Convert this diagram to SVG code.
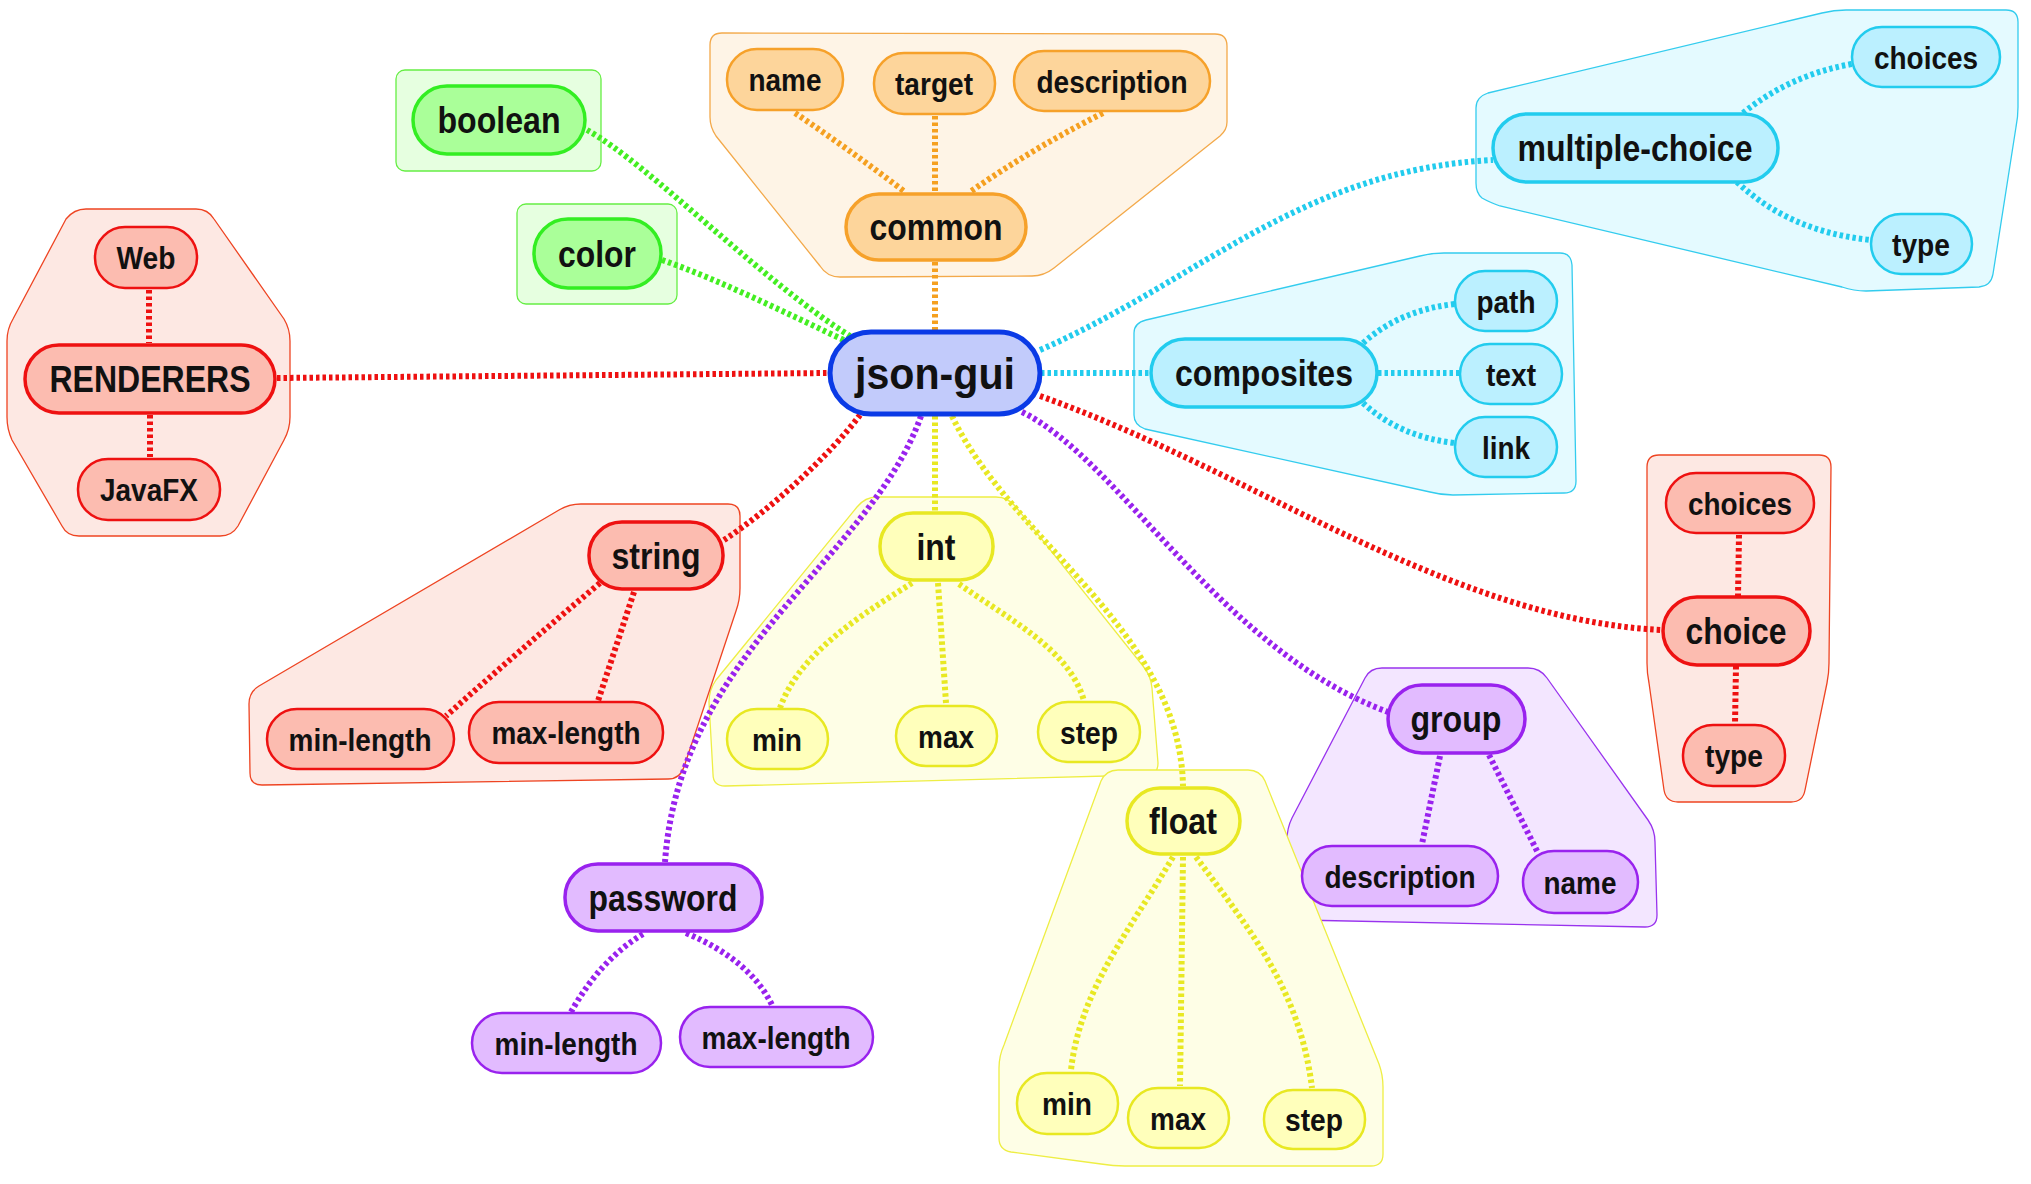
<svg xmlns="http://www.w3.org/2000/svg" width="2031" height="1184" viewBox="0 0 2031 1184">
<style>
text{font-family:"Liberation Sans",Arial,sans-serif;font-weight:bold;fill:#111;text-anchor:middle}
.t1{font-size:36px}.t2{font-size:32px}.t0{font-size:45px}
.c{fill:none;stroke-width:6;stroke-dasharray:3.5 3}
.cr{stroke:#ee1111}.co{stroke:#f5a020}.cg{stroke:#44ee22}.cc{stroke:#22ccee}.cy{stroke:#e8e822}.cp{stroke:#9922ee}
.gr{fill:#fde8e3;stroke:#ee4422;stroke-width:1.3}
.go{fill:#fef4e6;stroke:#f3a94a;stroke-width:1.3}
.gg{fill:#e6ffe0;stroke:#66ee44;stroke-width:1.3}
.gc{fill:#e4faff;stroke:#33ccee;stroke-width:1.3}
.gy{fill:#fefee6;stroke:#eeee44;stroke-width:1.3}
.gp{fill:#f3e6ff;stroke:#9933ee;stroke-width:1.3}
.nr{fill:#fcbcb0;stroke:#ee1111}
.no{fill:#fdd59b;stroke:#f6a12a}
.ng{fill:#aaff99;stroke:#33ee22}
.nc{fill:#bbf0ff;stroke:#22ccee}
.ny{fill:#ffffbb;stroke:#e8e822}
.np{fill:#e2bbff;stroke:#9922ee}
.nb{fill:#c2cbfb;stroke:#0a3ae6;stroke-width:5}
.l1{stroke-width:3.5}.l2{stroke-width:2.5}
</style>
<g id="groups">
<path class="go" d="M722,33 L1215,34 Q1227,34 1227,46 L1227,122 Q1227,130 1220,136 L1054,268 Q1044,276 1032,276 L840,277 Q827,277 820,266 L716,136 Q710,127 710,117 L710,45 Q710,33 722,33 Z"/>
<rect class="gg" x="396" y="70" width="205" height="101" rx="9"/>
<rect class="gg" x="517" y="204" width="160" height="100" rx="9"/>
<path class="gr" d="M86,209 L196,209 Q208,209 214,219 L284,319 Q290,329 290,341 L290,417 Q290,429 284,440 L238,526 Q232,536 220,536 L79,536 Q67,536 62,526 L12,440 Q7,429 7,417 L7,341 Q7,329 13,319 L66,219 Q74,209 86,209 Z"/>
<path class="gc" d="M1488,93 L1822,13 Q1834,10 1846,10 L2006,10 Q2018,10 2018,22 L2018,107 Q2018,117 2016,127 L1993,274 Q1991,286 1979,287 L1866,291 Q1854,291 1842,287 L1500,206 Q1489,202 1482,198 Q1476,193 1476,183 L1476,108 Q1476,97 1488,93 Z"/>
<path class="gc" d="M1146,320 L1420,256 Q1432,253 1444,253 L1560,253 Q1571,253 1572,265 L1576,481 Q1576,493 1564,493 L1453,495 Q1441,495 1430,492 L1145,429 Q1134,425 1134,415 L1134,333 Q1134,323 1146,320 Z"/>
<path class="gr" d="M1659,455 L1819,455 Q1831,455 1831,467 L1829,663 Q1829,673 1827,683 L1805,790 Q1803,802 1791,802 L1678,802 Q1666,802 1664,790 L1649,683 Q1647,673 1647,663 L1647,467 Q1647,455 1659,455 Z"/>
<path class="gp" d="M1382,668 L1528,668 Q1540,668 1547,678 L1648,820 Q1655,830 1655,842 L1657,915 Q1657,927 1645,927 L1299,920 Q1287,920 1287,908 L1287,840 Q1287,828 1292,818 L1365,678 Q1370,668 1382,668 Z"/>
<path class="gy" d="M877,497 L996,497 Q1008,497 1016,507 L1143,666 Q1151,676 1152,688 L1158,763 Q1158,775 1146,775 L725,786 Q713,786 713,774 L709,702 Q709,690 716,680 L857,507 Q865,497 877,497 Z"/>
<path class="gy" d="M1118,770 L1248,770 Q1260,770 1265,781 L1379,1064 Q1383,1075 1383,1087 L1383,1154 Q1383,1166 1371,1166 L1125,1166 Q1113,1166 1101,1164 L1011,1152 Q999,1150 999,1138 L999,1068 Q999,1056 1004,1045 L1101,781 Q1106,770 1118,770 Z"/>
<path class="gr" d="M581,504 L728,504 Q740,504 740,516 L740,588 Q740,600 736,611 L684,767 Q680,779 668,779 L262,785 Q250,785 250,773 L249,704 Q249,692 259,686 L559,510 Q569,504 581,504 Z"/>
</g>
<g id="connectors">
<path class="c co" d="M935,262 L935,330"/>
<path class="c co" d="M795,113 Q850,150 905,192"/>
<path class="c co" d="M935,116 L935,192"/>
<path class="c co" d="M1103,113 Q1030,150 970,192"/>
<path class="c cg" d="M587,130 C650,165 760,280 850,336"/>
<path class="c cg" d="M662,260 C720,280 790,315 848,342"/>
<path class="c cr" d="M277,378 L829,373"/>
<path class="c cr" d="M149,290 L149,343"/>
<path class="c cr" d="M150,415 L150,457"/>
<path class="c cr" d="M860,415 C830,455 770,510 724,540"/>
<path class="c cr" d="M600,583 Q520,650 446,716"/>
<path class="c cr" d="M634,592 L598,701"/>
<path class="c cy" d="M935,416 L935,511"/>
<path class="c cy" d="M912,583 C870,610 800,650 780,708"/>
<path class="c cy" d="M938,583 L946,703"/>
<path class="c cy" d="M959,584 C1010,620 1070,650 1084,701"/>
<path class="c cy" d="M952,416 C1010,540 1180,630 1183,786"/>
<path class="c cy" d="M1173,857 C1130,930 1080,990 1071,1070"/>
<path class="c cy" d="M1183,857 L1180,1086"/>
<path class="c cy" d="M1196,857 C1250,930 1300,990 1312,1088"/>
<path class="c cp" d="M921,416 C870,560 680,650 665,862"/>
<path class="c cp" d="M643,934 Q600,960 571,1012"/>
<path class="c cp" d="M686,933 Q750,960 772,1005"/>
<path class="c cp" d="M1022,412 C1120,460 1220,650 1388,712"/>
<path class="c cp" d="M1440,756 L1422,844"/>
<path class="c cp" d="M1489,755 L1538,853"/>
<path class="c cr" d="M1040,396 C1250,470 1450,620 1662,630"/>
<path class="c cr" d="M1739,535 L1738,596"/>
<path class="c cr" d="M1736,666 L1735,724"/>
<path class="c cc" d="M1041,373 L1150,373"/>
<path class="c cc" d="M1363,343 Q1400,310 1455,304"/>
<path class="c cc" d="M1378,373 L1459,373"/>
<path class="c cc" d="M1363,403 Q1400,437 1455,443"/>
<path class="c cc" d="M1040,350 C1200,280 1300,170 1493,160"/>
<path class="c cc" d="M1743,113 Q1790,75 1852,64"/>
<path class="c cc" d="M1737,182 Q1790,232 1871,240"/>
</g>
<g id="json-gui"><rect class="nb" x="830" y="332" width="210" height="82" rx="41"/><text class="t0" x="935" y="389" textLength="160" lengthAdjust="spacingAndGlyphs">json-gui</text></g>
<g id="common"><rect class="no l1" x="846" y="194" width="180" height="66" rx="33"/><text class="t1" x="936" y="240" textLength="133" lengthAdjust="spacingAndGlyphs">common</text></g>
<g id="name"><rect class="no l2" x="727" y="49" width="116" height="61" rx="30"/><text class="t2" x="785" y="91" textLength="73" lengthAdjust="spacingAndGlyphs">name</text></g>
<g id="target"><rect class="no l2" x="874" y="53" width="121" height="61" rx="30"/><text class="t2" x="934" y="95" textLength="78" lengthAdjust="spacingAndGlyphs">target</text></g>
<g id="description-common"><rect class="no l2" x="1014" y="51" width="196" height="60" rx="30"/><text class="t2" x="1112" y="93" textLength="151" lengthAdjust="spacingAndGlyphs">description</text></g>
<g id="boolean"><rect class="ng l1" x="413" y="86" width="172" height="68" rx="34"/><text class="t1" x="499" y="133" textLength="123" lengthAdjust="spacingAndGlyphs">boolean</text></g>
<g id="color"><rect class="ng l1" x="534" y="219" width="127" height="69" rx="34"/><text class="t1" x="597" y="267" textLength="78" lengthAdjust="spacingAndGlyphs">color</text></g>
<g id="renderers"><rect class="nr l1" x="25" y="345" width="250" height="68" rx="34"/><text class="t1" x="150" y="392" textLength="201" lengthAdjust="spacingAndGlyphs">RENDERERS</text></g>
<g id="web"><rect class="nr l2" x="95" y="227" width="102" height="61" rx="30"/><text class="t2" x="146" y="269" textLength="59" lengthAdjust="spacingAndGlyphs">Web</text></g>
<g id="javafx"><rect class="nr l2" x="78" y="459" width="142" height="61" rx="30"/><text class="t2" x="149" y="501" textLength="98" lengthAdjust="spacingAndGlyphs">JavaFX</text></g>
<g id="string"><rect class="nr l1" x="589" y="522" width="134" height="67" rx="33"/><text class="t1" x="656" y="569" textLength="89" lengthAdjust="spacingAndGlyphs">string</text></g>
<g id="string-min-length"><rect class="nr l2" x="267" y="709" width="187" height="60" rx="30"/><text class="t2" x="360" y="751" textLength="143" lengthAdjust="spacingAndGlyphs">min-length</text></g>
<g id="string-max-length"><rect class="nr l2" x="469" y="702" width="194" height="61" rx="30"/><text class="t2" x="566" y="744" textLength="149" lengthAdjust="spacingAndGlyphs">max-length</text></g>
<g id="int"><rect class="ny l1" x="880" y="513" width="113" height="67" rx="33"/><text class="t1" x="936" y="560" textLength="39" lengthAdjust="spacingAndGlyphs">int</text></g>
<g id="int-min"><rect class="ny l2" x="727" y="709" width="101" height="60" rx="30"/><text class="t2" x="777" y="751" textLength="50" lengthAdjust="spacingAndGlyphs">min</text></g>
<g id="int-max"><rect class="ny l2" x="896" y="706" width="101" height="60" rx="30"/><text class="t2" x="946" y="748" textLength="56" lengthAdjust="spacingAndGlyphs">max</text></g>
<g id="int-step"><rect class="ny l2" x="1038" y="702" width="102" height="60" rx="30"/><text class="t2" x="1089" y="744" textLength="58" lengthAdjust="spacingAndGlyphs">step</text></g>
<g id="float"><rect class="ny l1" x="1127" y="788" width="113" height="66" rx="33"/><text class="t1" x="1183" y="834" textLength="68" lengthAdjust="spacingAndGlyphs">float</text></g>
<g id="float-min"><rect class="ny l2" x="1017" y="1073" width="101" height="61" rx="30"/><text class="t2" x="1067" y="1115" textLength="50" lengthAdjust="spacingAndGlyphs">min</text></g>
<g id="float-max"><rect class="ny l2" x="1128" y="1088" width="101" height="60" rx="30"/><text class="t2" x="1178" y="1130" textLength="56" lengthAdjust="spacingAndGlyphs">max</text></g>
<g id="float-step"><rect class="ny l2" x="1264" y="1090" width="101" height="59" rx="29"/><text class="t2" x="1314" y="1131" textLength="58" lengthAdjust="spacingAndGlyphs">step</text></g>
<g id="password"><rect class="np l1" x="565" y="864" width="197" height="67" rx="33"/><text class="t1" x="663" y="911" textLength="149" lengthAdjust="spacingAndGlyphs">password</text></g>
<g id="password-min-length"><rect class="np l2" x="472" y="1013" width="189" height="60" rx="30"/><text class="t2" x="566" y="1055" textLength="143" lengthAdjust="spacingAndGlyphs">min-length</text></g>
<g id="password-max-length"><rect class="np l2" x="680" y="1007" width="193" height="60" rx="30"/><text class="t2" x="776" y="1049" textLength="149" lengthAdjust="spacingAndGlyphs">max-length</text></g>
<g id="group"><rect class="np l1" x="1388" y="685" width="137" height="68" rx="34"/><text class="t1" x="1456" y="732" textLength="91" lengthAdjust="spacingAndGlyphs">group</text></g>
<g id="group-description"><rect class="np l2" x="1302" y="846" width="196" height="60" rx="30"/><text class="t2" x="1400" y="888" textLength="151" lengthAdjust="spacingAndGlyphs">description</text></g>
<g id="group-name"><rect class="np l2" x="1523" y="851" width="115" height="62" rx="31"/><text class="t2" x="1580" y="894" textLength="73" lengthAdjust="spacingAndGlyphs">name</text></g>
<g id="choice"><rect class="nr l1" x="1663" y="597" width="147" height="68" rx="34"/><text class="t1" x="1736" y="644" textLength="101" lengthAdjust="spacingAndGlyphs">choice</text></g>
<g id="choice-choices"><rect class="nr l2" x="1666" y="473" width="148" height="60" rx="30"/><text class="t2" x="1740" y="515" textLength="104" lengthAdjust="spacingAndGlyphs">choices</text></g>
<g id="choice-type"><rect class="nr l2" x="1683" y="725" width="102" height="61" rx="30"/><text class="t2" x="1734" y="767" textLength="58" lengthAdjust="spacingAndGlyphs">type</text></g>
<g id="composites"><rect class="nc l1" x="1151" y="339" width="226" height="68" rx="34"/><text class="t1" x="1264" y="386" textLength="178" lengthAdjust="spacingAndGlyphs">composites</text></g>
<g id="path"><rect class="nc l2" x="1455" y="271" width="102" height="60" rx="30"/><text class="t2" x="1506" y="313" textLength="59" lengthAdjust="spacingAndGlyphs">path</text></g>
<g id="text"><rect class="nc l2" x="1460" y="344" width="102" height="60" rx="30"/><text class="t2" x="1511" y="386" textLength="50" lengthAdjust="spacingAndGlyphs">text</text></g>
<g id="link"><rect class="nc l2" x="1455" y="417" width="102" height="60" rx="30"/><text class="t2" x="1506" y="459" textLength="48" lengthAdjust="spacingAndGlyphs">link</text></g>
<g id="multiple-choice"><rect class="nc l1" x="1493" y="114" width="285" height="68" rx="34"/><text class="t1" x="1635" y="161" textLength="235" lengthAdjust="spacingAndGlyphs">multiple-choice</text></g>
<g id="mc-choices"><rect class="nc l2" x="1852" y="27" width="148" height="60" rx="30"/><text class="t2" x="1926" y="69" textLength="104" lengthAdjust="spacingAndGlyphs">choices</text></g>
<g id="mc-type"><rect class="nc l2" x="1871" y="214" width="101" height="60" rx="30"/><text class="t2" x="1921" y="256" textLength="58" lengthAdjust="spacingAndGlyphs">type</text></g>
</svg>
